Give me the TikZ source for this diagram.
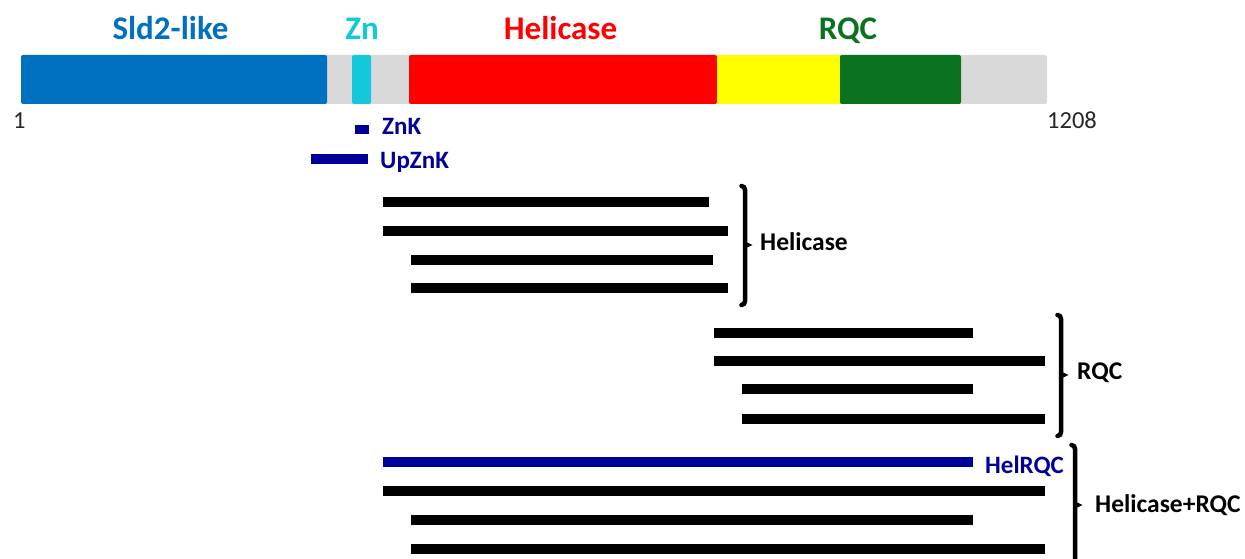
\documentclass[tikz,border=0pt]{standalone}
\usepackage{fontspec}
\setmainfont{Carlito}
\definecolor{sldblue}{HTML}{0070C0}
\definecolor{zncyan}{HTML}{14C8DC}
\definecolor{helred}{HTML}{FF0000}
\definecolor{linkyel}{HTML}{FFFF00}
\definecolor{rqcgreen}{HTML}{0A7320}
\definecolor{domgray}{HTML}{D9D9D9}
\definecolor{navy}{HTML}{000099}
\begin{document}
\begin{tikzpicture}[x=1pt,y=-1pt,
  seg/.style={rectangle, rounded corners=2pt, draw=none, inner sep=0pt, outer sep=0pt, minimum height=49pt},
  frag/.style={rectangle, fill=black, draw=none, inner sep=0pt, outer sep=0pt, minimum height=10pt, anchor=west},
  navyfrag/.style={frag, fill=navy},
  title/.style={font=\bfseries\fontsize{33}{35}\selectfont, anchor=base, inner sep=0pt},
  grplabel/.style={font=\bfseries\fontsize{25.5}{27}\selectfont, anchor=base west, inner sep=0pt},
  navylabel/.style={font=\bfseries\fontsize{25}{27}\selectfont, anchor=base west, inner sep=0pt, text=navy},
  poslabel/.style={font=\fontsize{24.5}{26}\selectfont, anchor=base west, inner sep=0pt, text=black!85},
  brace/.style={line width=4.5pt, line cap=round}
]
\useasboundingbox (0,0) rectangle (1245,559);

% protein bar
\node[seg, fill=domgray, minimum width=747pt] (bg) at (673.5,79.5) {};
\node[seg, fill=sldblue, minimum width=306pt] (sld) at (174,79.5) {};
\node[seg, fill=zncyan, minimum width=19pt] (zn) at (361.5,79.5) {};
\node[seg, fill=helred, minimum width=308pt] (hel) at (563,79.5) {};
\node[seg, fill=linkyel, minimum width=123pt, rounded corners=0pt] (lnk) at (778.5,79.5) {};
\node[seg, fill=rqcgreen, minimum width=121pt] (rqc) at (900.5,79.5) {};

% domain titles
\node[title, text=sldblue] (tsld) at (170.5,40) {Sld2-like};
\node[title, text=zncyan] (tzn) at (362,40) {Zn};
\node[title, text=helred] (thel) at (560.5,40) {Helicase};
\node[title, text=rqcgreen] (trqc) at (848,40) {RQC};

% positions
\node[poslabel] (p1) at (13,129) {1};
\node[poslabel] (p2) at (1047,129) {1208};

% ZnK and UpZnK
\node[navyfrag, minimum width=14pt, minimum height=9pt] (znk) at (355,130) {};
\node[navylabel] (lznk) at (382,135) {ZnK};
\node[navyfrag, minimum width=57pt] (upznk) at (311,159) {};
\node[navylabel] (lupznk) at (380,168.5) {UpZnK};

% Helicase constructs
\node[frag, minimum width=326pt] (h1) at (383,202) {};
\node[frag, minimum width=345pt] (h2) at (383,230.5) {};
\node[frag, minimum width=302pt] (h3) at (411,260) {};
\node[frag, minimum width=317pt] (h4) at (411,288) {};

% RQC constructs
\node[frag, minimum width=259pt] (r1) at (714,332.5) {};
\node[frag, minimum width=331pt] (r2) at (714,361) {};
\node[frag, minimum width=231pt] (r3) at (742,389) {};
\node[frag, minimum width=303pt] (r4) at (742,419) {};

% Helicase+RQC constructs
\node[navyfrag, minimum width=590pt] (b1) at (383,462) {};
\node[navylabel] (lhelrqc) at (985,473) {HelRQC};
\node[frag, minimum width=662pt] (b2) at (383,490.5) {};
\node[frag, minimum width=562pt] (b3) at (411,519.5) {};
\node[frag, minimum width=634pt] (b4) at (411,548.5) {};

% braces
\draw[brace] (741.5,186) to[out=0,in=90] (745,190) -- (745,301) to[out=-90,in=0] (741.5,305);
\fill (745,241.5) -- (752.5,245) -- (745,248.5) -- cycle;
\node[grplabel] (lhel) at (760,250) {Helicase};

\draw[brace] (1057.5,315) to[out=0,in=90] (1061,319) -- (1061,432) to[out=-90,in=0] (1057.5,436);
\fill (1061,371.5) -- (1068.5,375) -- (1061,378.5) -- cycle;
\node[grplabel] (lrqc) at (1077,379) {RQC};

\draw[brace] (1071.5,445) to[out=0,in=90] (1075,449) -- (1075,580);
\fill (1075,501.5) -- (1082.5,505) -- (1075,508.5) -- cycle;
\node[grplabel] (lhr) at (1095,512) {Helicase+RQC};
\end{tikzpicture}
\end{document}
